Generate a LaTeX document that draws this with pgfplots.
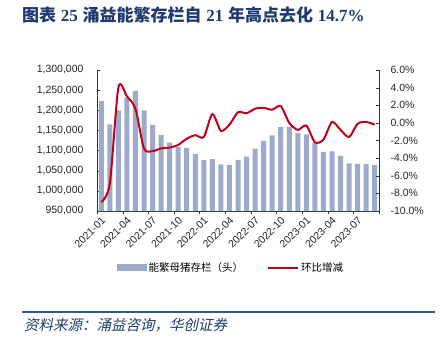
\documentclass[border=0pt]{standalone}
\usepackage{pgfplots}
\pgfplotsset{compat=1.18}
\usepackage{fontspec}
\setmainfont{Liberation Sans}
\newfontfamily\cjk{Noto Sans CJK SC}
\newfontfamily\cjksrc[FakeSlant=0.22]{Noto Sans CJK SC}
\newfontfamily\titlelat{Liberation Serif}
\definecolor{barc}{HTML}{9EAACB}
\definecolor{linec}{HTML}{C00018}
\definecolor{navy}{HTML}{1F3A6E}
\definecolor{sepc}{HTML}{2C5AA0}
\pgfplotsset{/pgf/number format/assume math mode=true}
\begin{document}
\begin{tikzpicture}
\useasboundingbox (0bp,0bp) rectangle (446bp,-346bp);
% title
\node[anchor=west, inner sep=0pt, text=navy] at (22bp,-15bp) {\fontsize{17bp}{20bp}\selectfont
 {\cjk\bfseries 图表}\ {\titlelat\bfseries 25}\ {\cjk\bfseries 涌益能繁存栏自}\ {\titlelat\bfseries 21}\ {\cjk\bfseries 年高点去化}\ {\titlelat\bfseries 14.7\%}};
% bars
\begin{axis}[
  at={(97bp,-211bp)}, anchor=south west,
  scale only axis, width=282bp, height=141bp,
  xmin=-0.5, xmax=32.5, ymin=950000, ymax=1300000,
  axis x line*=bottom, axis y line*=left,
  axis line style={-, black!80},
  ytick={950000,1000000,...,1300000},
  scaled y ticks=false,
  yticklabel style={xshift=-10bp, /pgf/number format/fixed, /pgf/number format/1000 sep={,}},
  xtick={-0.5,2.5,...,32.5},
  xticklabels={2021-01,2021-04,2021-07,2021-10,2022-01,2022-04,2022-07,2022-10,2023-01,2023-04,2023-07,},
  xticklabel style={rotate=45, anchor=north east, xshift=4.5bp, yshift=-1bp},
  tick label style={font=\fontsize{10.5bp}{12bp}\selectfont, text=black!85},
  major tick length=3bp, tick style={black!80},
  tick align=inside,
  ybar, bar width=5bp,
  legend style={at={(0.475,-0.404)}, anchor=center, draw=none, fill=none,
    font=\cjk\fontsize{10.5bp}{12bp}\selectfont, legend columns=2,
    /tikz/every even column/.append style={column sep=22bp}},
]
\addplot[fill=barc, draw=none,
  legend image code/.code={\fill[barc] (0bp,-3.5bp) rectangle (30bp,3.5bp);}]
 coordinates {
 (0,1223000) (1,1165000) (2,1200000) (3,1230000) (4,1248000) (5,1200000)
 (6,1163000) (7,1139000) (8,1120000) (9,1109000) (10,1107000) (11,1092000)
 (12,1076000) (13,1079000) (14,1066000) (15,1064000) (16,1077000) (17,1085000)
 (18,1105000) (19,1124000) (20,1138000) (21,1158000) (22,1158000) (23,1144000)
 (24,1140000) (25,1120000) (26,1097000) (27,1098000) (28,1087000) (29,1068000)
 (30,1067000) (31,1067000) (32,1064000)};
\addlegendentry{能繁母猪存栏（头）}
\addlegendimage{legend image code/.code={\draw[linec, line width=2bp] (0bp,0bp) -- (30bp,0bp);}}
\addlegendentry{环比增减}
\end{axis}
% line
\begin{axis}[
  at={(97bp,-211bp)}, anchor=south west,
  scale only axis, width=282bp, height=141bp,
  xmin=-0.5, xmax=32.5, ymin=-10, ymax=6,
  axis x line=none, axis y line*=right,
  axis line style={-, black!80},
  ytick={-10,-8,...,6},
  yticklabel={\pgfmathprintnumber[fixed,fixed zerofill,precision=1]{\tick}\%},
  yticklabel style={xshift=8bp},
  tick label style={font=\fontsize{10.5bp}{12bp}\selectfont, text=black!85},
  major tick length=3bp, tick style={black!80},
  tick align=inside,
]
\addplot[linec, line width=2bp, smooth, tension=0.45, no markers] coordinates {
 (0,-9.0) (1,-6.9) (2,4.0) (3,3.0) (4,1.6) (5,-2.9) (6,-3.2) (7,-2.9) (8,-2.8)
 (9,-2.5) (10,-1.8) (11,-1.4) (12,-1.6) (13,1.0) (14,-0.9) (15,-0.2) (16,1.2)
 (17,1.1) (18,1.6) (19,1.7) (20,1.5) (21,1.9) (22,0.0) (23,-0.8) (24,-0.3)
 (25,-2.2) (26,-1.9) (27,0.1) (28,-0.8) (29,-1.6) (30,-0.1) (31,0.1) (32,-0.2)};
\end{axis}
% separator and source
\draw[sepc, line width=1.3bp] (22bp,-312bp) -- (435bp,-312bp);
\node[anchor=west, inner sep=0pt, text=navy] at (24bp,-325bp) {\cjksrc\fontsize{14.5bp}{17bp}\selectfont 资料来源：涌益咨询，华创证券};
\end{tikzpicture}
\end{document}
